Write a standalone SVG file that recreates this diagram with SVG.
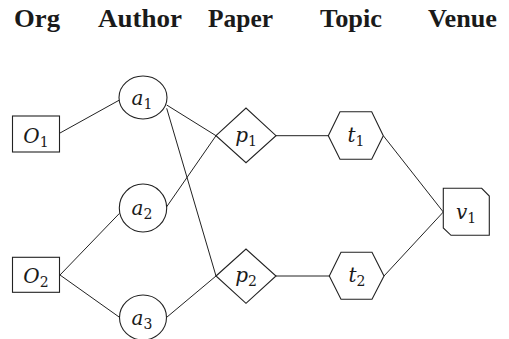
<svg xmlns="http://www.w3.org/2000/svg" width="509" height="339" viewBox="0 0 509 339">
<style>
.hd{font-family:"Liberation Serif","Times New Roman",serif;font-weight:bold;font-size:26px;fill:#1a1a1a}
.sh{fill:#fff;stroke:#222;stroke-width:1.1}
.lb{font-family:"DejaVu Serif","Liberation Serif",serif;font-style:italic;font-size:20px;fill:#1a1a1a;text-anchor:middle}
.sb{font-style:normal;font-size:14px}
.ed{stroke:#222;stroke-width:1;fill:none}
</style>
<rect width="509" height="339" fill="#fff"/>
<g id="headers">
<text class="hd" x="14" y="27" textLength="46" lengthAdjust="spacingAndGlyphs">Org</text>
<text class="hd" x="98" y="27" textLength="84" lengthAdjust="spacingAndGlyphs">Author</text>
<text class="hd" x="208" y="27" textLength="65" lengthAdjust="spacingAndGlyphs">Paper</text>
<text class="hd" x="320" y="27" textLength="62" lengthAdjust="spacingAndGlyphs">Topic</text>
<text class="hd" x="428" y="27" textLength="69" lengthAdjust="spacingAndGlyphs">Venue</text>
</g>
<g id="connectors">
<line class="ed" x1="60" y1="133" x2="119.5" y2="100"/>
<line class="ed" x1="166.7" y1="105" x2="216" y2="135.7"/>
<line class="ed" x1="166.7" y1="108.3" x2="216" y2="276"/>
<line class="ed" x1="166.5" y1="207" x2="216" y2="135.7"/>
<line class="ed" x1="60" y1="275" x2="119.5" y2="213.3"/>
<line class="ed" x1="60" y1="275" x2="119.5" y2="317.3"/>
<line class="ed" x1="166.7" y1="317.3" x2="216" y2="276"/>
<line class="ed" x1="276" y1="135.7" x2="328.3" y2="135.7"/>
<line class="ed" x1="383.3" y1="135.7" x2="443.3" y2="212"/>
<line class="ed" x1="276" y1="276" x2="329.3" y2="276"/>
<line class="ed" x1="384" y1="276" x2="443.3" y2="212"/>
</g>
<g id="O1"><rect class="sh" x="12.5" y="116" width="47" height="36"/><text class="lb" x="36" y="143">O<tspan class="sb" dy="4">1</tspan></text></g>
<g id="O2"><rect class="sh" x="12.5" y="257.3" width="47" height="35"/><text class="lb" x="36" y="283">O<tspan class="sb" dy="4">2</tspan></text></g>
<g id="a1"><ellipse class="sh" cx="143" cy="97.5" rx="24" ry="21.5"/><text class="lb" x="142" y="104.5">a<tspan class="sb" dy="4">1</tspan></text></g>
<g id="a2"><ellipse class="sh" cx="143" cy="208" rx="23.7" ry="24"/><text class="lb" x="142" y="215">a<tspan class="sb" dy="4">2</tspan></text></g>
<g id="a3"><ellipse class="sh" cx="143" cy="317.5" rx="23.5" ry="22.5"/><text class="lb" x="142" y="324.5">a<tspan class="sb" dy="4">3</tspan></text></g>
<g id="p1"><polygon class="sh" points="216,135.7 246,108 276,135.7 246,162.7"/><text class="lb" x="246" y="141.5">p<tspan class="sb" dy="4">1</tspan></text></g>
<g id="p2"><polygon class="sh" points="216,276 246,249 276,276 246,303.3"/><text class="lb" x="246" y="282">p<tspan class="sb" dy="4">2</tspan></text></g>
<g id="t1"><polygon class="sh" points="328.3,135.7 340,111.7 371.7,111.7 383.3,135.7 371.7,159.3 340,159.3"/><text class="lb" x="356" y="141.5">t<tspan class="sb" dy="4">1</tspan></text></g>
<g id="t2"><polygon class="sh" points="329.3,276 341,252.3 372,252.3 384,276 372,299.3 341,299.3"/><text class="lb" x="357" y="282">t<tspan class="sb" dy="4">2</tspan></text></g>
<g id="v1"><polygon class="sh" points="443.3,188.3 481.7,188.3 489.3,196 489.3,235.3 451,235.3 443.3,228"/><text class="lb" x="466" y="219">v<tspan class="sb" dy="4">1</tspan></text></g>
</svg>
